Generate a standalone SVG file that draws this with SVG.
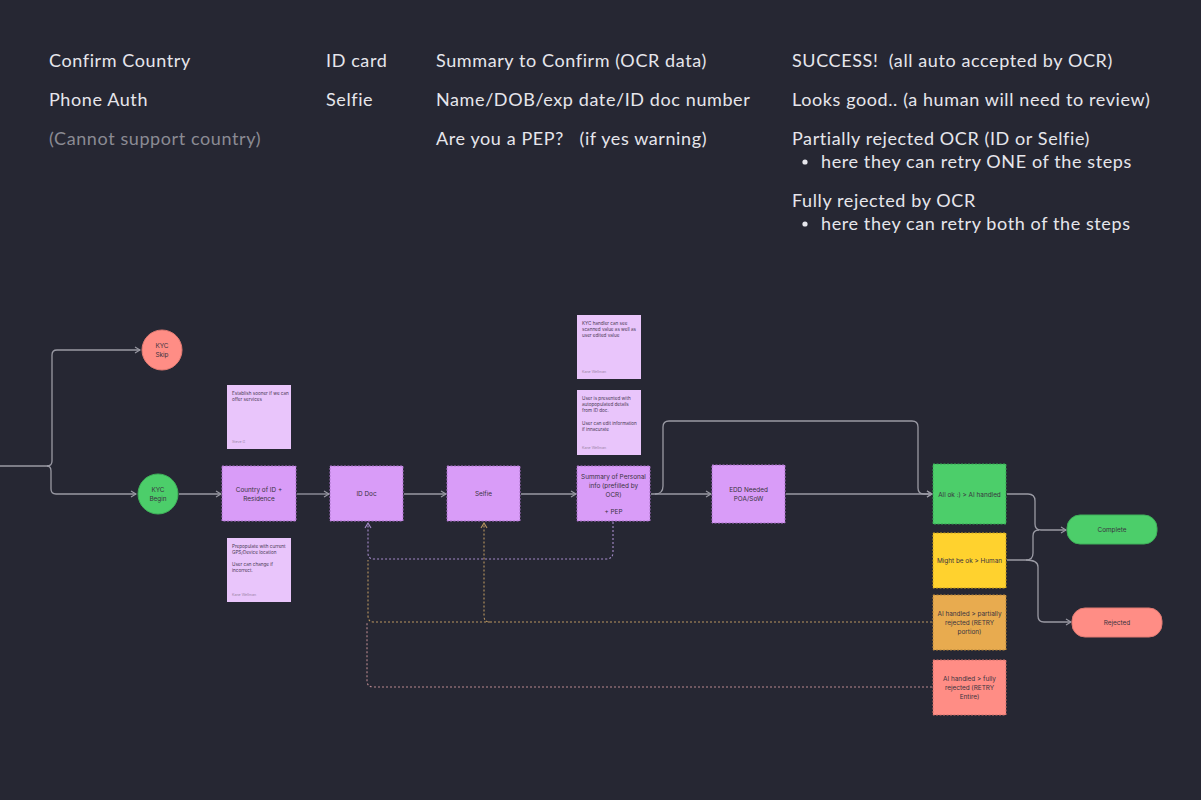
<svg xmlns="http://www.w3.org/2000/svg" width="1201" height="800" viewBox="0 0 1201 800">
<defs>
<style>
.hd{font-family:Lato,"Noto Sans",sans-serif;font-size:18px;fill:#e6e6ec;letter-spacing:0.6px;white-space:pre}
.gr{fill:#8b8b94}
.nt{font-family:Inter,"Liberation Sans",sans-serif;font-size:6.4px;fill:#3a3340;text-anchor:middle}
.st{font-family:Inter,"Liberation Sans",sans-serif;font-size:4.6px;fill:#4a3a55}
.sa{font-family:Inter,"Liberation Sans",sans-serif;font-size:3.6px;fill:#9a86a6}
.box{stroke-width:1;stroke-dasharray:2 1.5}
.pu{fill:#d99cf8;stroke:#a870c8}
.sticky{fill:#e9c5fb}
.ln{fill:none;stroke:#9a9aa4;stroke-width:1.3}
.dl{fill:none;stroke-width:1.1;stroke-dasharray:2 2}
</style>
<marker id="ar" markerWidth="8" markerHeight="8" refX="6" refY="4" orient="auto" markerUnits="userSpaceOnUse">
<path d="M1,1 L6,4 L1,7" fill="none" stroke="#9a9aa4" stroke-width="1.1"/>
</marker>
<marker id="arP" markerWidth="8" markerHeight="8" refX="6" refY="4" orient="auto" markerUnits="userSpaceOnUse">
<path d="M1,1 L6,4 L1,7" fill="none" stroke="#a68ccb" stroke-width="1.1"/>
</marker>
<marker id="arO" markerWidth="8" markerHeight="8" refX="6" refY="4" orient="auto" markerUnits="userSpaceOnUse">
<path d="M1,1 L6,4 L1,7" fill="none" stroke="#b99660" stroke-width="1.1"/>
</marker>
</defs>
<rect width="1201" height="800" fill="#262733"/>

<g id="header-text">
<text class="hd" x="49" y="67">Confirm Country</text>
<text class="hd" x="49" y="106">Phone Auth</text>
<text class="hd gr" x="49" y="145">(Cannot support country)</text>
<text class="hd" x="326" y="67">ID card</text>
<text class="hd" x="326" y="106">Selfie</text>
<text class="hd" x="436" y="67">Summary to Confirm (OCR data)</text>
<text class="hd" x="436" y="106">Name/DOB/exp date/ID doc number</text>
<text class="hd" x="436" y="145" xml:space="preserve">Are you a PEP?   (if yes warning)</text>
<text class="hd" x="792" y="67" xml:space="preserve">SUCCESS!  (all auto accepted by OCR)</text>
<text class="hd" x="792" y="106">Looks good.. (a human will need to review)</text>
<text class="hd" x="792" y="145">Partially rejected OCR (ID or Selfie)</text>
<circle cx="805" cy="162" r="2.6" fill="#e6e6ec"/>
<text class="hd" x="821" y="168">here they can retry ONE of the steps</text>
<text class="hd" x="792" y="207">Fully rejected by OCR</text>
<circle cx="805" cy="224" r="2.6" fill="#e6e6ec"/>
<text class="hd" x="821" y="230">here they can retry both of the steps</text>
</g>

<g id="connectors">
<path class="ln" d="M0,466 H47 Q52,466 52,461 V355 Q52,350 57,350 H140" marker-end="url(#ar)"/>
<path class="ln" d="M47,466 Q51,466 51,471 V489 Q51,494 56,494 H136" marker-end="url(#ar)"/>
<path class="ln" d="M179,494 H221" marker-end="url(#ar)"/>
<path class="ln" d="M297,494 H329" marker-end="url(#ar)"/>
<path class="ln" d="M404,494 H446" marker-end="url(#ar)"/>
<path class="ln" d="M521,494 H576" marker-end="url(#ar)"/>
<path class="ln" d="M651,494 H711" marker-end="url(#ar)"/>
<path class="ln" d="M655,494 Q663,494 663,486 V427 Q663,421 669,421 H912 Q918,421 918,427 V488 Q918,494 924,494 H932" marker-end="url(#ar)"/>
<path class="ln" d="M786,494 H932" marker-end="url(#ar)"/>
<path class="ln" d="M1007,494 H1028 Q1035,494 1035,501 V524 Q1035,530 1041,530 H1066" marker-end="url(#ar)"/>
<path class="ln" d="M1007,560 H1026 Q1033,560 1033,553 V536 Q1033,530 1039,530"/>
<path class="ln" d="M1026,560 Q1038,560 1038,567 V616 Q1038,622 1044,622 H1071" marker-end="url(#ar)"/>
<path class="dl" stroke="#a68ccb" d="M613,522 V552 Q613,559 606,559 H374 Q368,559 368,553 V523" marker-end="url(#arP)"/>
<path class="dl" stroke="#b99660" d="M932,622 H490 Q484,622 484,616 V523" marker-end="url(#arO)"/>
<path class="dl" stroke="#b99660" d="M490,622 H374 Q368,622 368,616 V560"/>
<path class="dl" stroke="#b8888e" d="M932,687 H374 Q367,687 367,681 V622"/>
</g>

<g id="kyc-skip">
<circle cx="162" cy="350" r="20" fill="#ff8d85" stroke="#e07a72"/>
<text class="nt" x="162" y="348">KYC</text>
<text class="nt" x="162" y="357">Skip</text>
</g>
<g id="kyc-begin">
<circle cx="158" cy="494" r="20" fill="#4cce6a" stroke="#3fb05a"/>
<text class="nt" x="158" y="492">KYC</text>
<text class="nt" x="158" y="501">Begin</text>
</g>

<g id="country">
<rect class="box pu" x="222" y="466" width="74" height="55"/>
<text class="nt" x="259" y="492">Country of ID +</text>
<text class="nt" x="259" y="501">Residence</text>
</g>
<g id="id-doc">
<rect class="box pu" x="330" y="466" width="73" height="55"/>
<text class="nt" x="366.5" y="496">ID Doc</text>
</g>
<g id="selfie">
<rect class="box pu" x="447" y="466" width="73" height="55"/>
<text class="nt" x="483.5" y="496">Selfie</text>
</g>
<g id="summary">
<rect class="box pu" x="577" y="466" width="73" height="55"/>
<text class="nt" x="613.5" y="479">Summary of Personal</text>
<text class="nt" x="613.5" y="488">info (prefilled by</text>
<text class="nt" x="613.5" y="497">OCR)</text>
<text class="nt" x="613.5" y="514">+ PEP</text>
</g>
<g id="edd">
<rect class="box pu" x="712" y="465" width="73" height="58"/>
<text class="nt" x="748.5" y="492">EDD Needed</text>
<text class="nt" x="748.5" y="501">POA/SoW</text>
</g>

<g id="all-ok">
<rect class="box" x="933" y="464" width="73" height="60" fill="#4cce6a" stroke="#35a052"/>
<text class="nt" x="969.5" y="497">All ok :) &gt; AI handled</text>
</g>
<g id="might-be-ok">
<rect class="box" x="933" y="533" width="73" height="55" fill="#ffd22e" stroke="#c9a020"/>
<text class="nt" x="969.5" y="563">Might be ok &gt; Human</text>
</g>
<g id="partial">
<rect class="box" x="933" y="595" width="73" height="55" fill="#e8ab4f" stroke="#b5843a"/>
<text class="nt" x="969.5" y="616">AI handled &gt; partially</text>
<text class="nt" x="969.5" y="625">rejected (RETRY</text>
<text class="nt" x="969.5" y="634">portion)</text>
</g>
<g id="fully">
<rect class="box" x="933" y="660" width="73" height="55" fill="#ff8d85" stroke="#cc6e68"/>
<text class="nt" x="969.5" y="681">AI handled &gt; fully</text>
<text class="nt" x="969.5" y="690">rejected (RETRY</text>
<text class="nt" x="969.5" y="699">Entire)</text>
</g>
<g id="complete">
<rect x="1067" y="515" width="90" height="29" rx="13" fill="#4cce6a" stroke="#3fb05a"/>
<text class="nt" x="1112" y="532">Complete</text>
</g>
<g id="rejected">
<rect x="1072" y="608" width="90" height="29" rx="13" fill="#ff8d85" stroke="#e07a72"/>
<text class="nt" x="1117" y="625">Rejected</text>
</g>

<g id="note-establish">
<rect class="sticky" x="227" y="385" width="64" height="64"/>
<text class="st" x="232" y="395">Establish sooner if we can</text>
<text class="st" x="232" y="401">offer services</text>
<text class="sa" x="232" y="443">Steve G</text>
</g>
<g id="note-prepopulate">
<rect class="sticky" x="227" y="538" width="64" height="64"/>
<text class="st" x="232" y="548">Prepopulate with current</text>
<text class="st" x="232" y="554">GPS/Device location</text>
<text class="st" x="232" y="566">User can change if</text>
<text class="st" x="232" y="572">incorrect.</text>
<text class="sa" x="232" y="596">Kane Wellman</text>
</g>
<g id="note-handler">
<rect class="sticky" x="577" y="315" width="64" height="64"/>
<text class="st" x="582" y="325">KYC handler can see</text>
<text class="st" x="582" y="331">scanned value as well as</text>
<text class="st" x="582" y="337">user edited value</text>
<text class="sa" x="582" y="373">Kane Wellman</text>
</g>
<g id="note-presented">
<rect class="sticky" x="577" y="390" width="64" height="65"/>
<text class="st" x="582" y="400">User is presented with</text>
<text class="st" x="582" y="406">autopopulated details</text>
<text class="st" x="582" y="412">from ID doc.</text>
<text class="st" x="582" y="425">User can edit information</text>
<text class="st" x="582" y="431">if innacurate</text>
<text class="sa" x="582" y="449">Kane Wellman</text>
</g>
</svg>
